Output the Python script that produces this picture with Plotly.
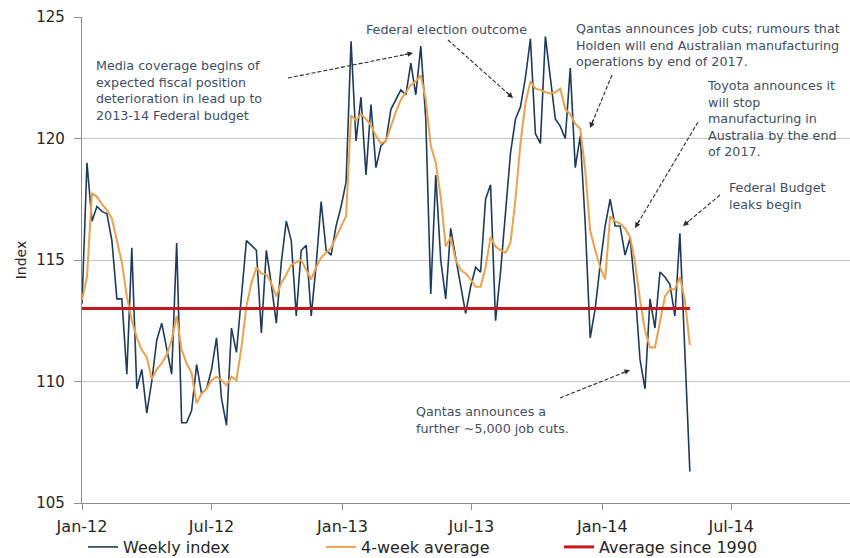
import math
import pandas as pd
import plotly.graph_objects as go

# ---------------- data ----------------
start_date = "2012-01-01"
weekly_index = [113.2, 119.0, 116.6, 117.2, 117.0, 116.9, 115.8, 113.4, 113.4, 110.3,
                115.5, 109.7, 110.5, 108.7, 110.0, 111.7, 112.4, 111.4, 110.3, 115.7,
                108.3, 108.3, 108.8, 110.7, 109.5, 109.7, 110.5, 111.8, 109.3, 108.2,
                112.2, 111.2, 113.5, 115.8, 115.6, 115.4, 112.0, 115.4, 114.0, 112.4,
                114.9, 116.6, 115.8, 112.7, 115.4, 115.6, 112.7, 114.8, 117.4, 115.4,
                115.2, 116.4, 117.2, 118.2, 124.0, 119.9, 121.7, 118.5, 121.4, 118.8,
                119.7, 119.9, 121.2, 121.6, 122.0, 121.8, 123.1, 121.8, 123.8, 120.8,
                113.6, 118.5, 115.0, 113.4, 116.3, 115.1, 114.0, 112.8, 113.9, 114.7,
                114.5, 117.5, 118.1, 112.5, 114.5, 116.8, 119.4, 120.8, 121.3, 122.5,
                124.1, 120.2, 119.8, 124.2, 122.5, 120.8, 120.5, 120.0, 122.9, 118.8,
                120.1, 116.5, 111.8, 113.0, 114.8, 116.4, 117.5, 116.4, 116.4, 115.2,
                115.9, 113.8, 110.9, 109.7, 113.4, 112.2, 114.5, 114.3, 114.0, 112.7,
                116.1, 111.2, 106.3]
four_week_avg = [113.35, 114.3, 117.75, 117.6, 117.3, 117.05, 116.7, 115.8, 114.9, 113.5,
                 112.5, 111.8, 111.3, 111.0, 110.1, 110.5, 110.75, 111.1, 111.7, 112.7,
                 111.3, 110.75, 110.35, 109.1, 109.5, 109.7, 110.05, 110.2, 110.05, 109.85,
                 110.2, 110.05, 111.4, 113.1, 114.05, 114.7, 114.45, 114.4, 114.05, 113.5,
                 114.05, 114.4, 114.8, 114.9, 115.0, 114.6, 114.2, 114.7, 115.1, 115.3,
                 115.5, 115.95, 116.4, 116.8, 120.95, 120.75, 121.0, 120.8, 120.55, 120.1,
                 119.8, 119.9, 120.5, 121.1, 121.6, 121.9, 122.2, 122.35, 122.6, 121.6,
                 119.7, 119.0, 117.6, 115.55, 115.95, 115.0, 114.6, 114.45, 114.2, 113.9,
                 113.9, 114.7, 115.95, 115.55, 115.4, 115.3, 115.7, 117.5, 119.8, 121.45,
                 122.35, 122.05, 122.0, 121.9, 121.85, 121.9, 122.05, 121.2, 121.0, 120.6,
                 120.4, 118.7, 116.2, 115.4, 114.7, 114.2, 116.8, 116.6, 116.5, 116.3,
                 115.95, 114.9, 113.35, 112.1, 111.4, 111.4, 112.5, 113.5, 113.8, 113.8,
                 114.3, 113.35, 111.5]
average_since_1990 = 113.0

tick_dates = ["2012-01-01", "2012-07-01", "2013-01-01", "2013-07-01", "2014-01-01", "2014-07-01"]
tick_labels = ["Jan-12", "Jul-12", "Jan-13", "Jul-13", "Jan-14", "Jul-14"]
x_range = ["2012-01-01", "2014-12-15"]
y_range = [105, 125]

dates = pd.date_range(start_date, periods=len(weekly_index), freq="7D")

# ---------------- layout helpers ----------------
W, H = 850, 558
L, R, T, B = 82, 0, 17, 55
PW, PH = W - L - R, H - T - B


def px(xp):
    return (xp - L) / PW


def py(yp):
    return (T + PH - yp) / PH


FONT = "DejaVu Sans, Verdana, sans-serif"
NOTE = "#3e4e63"
ARROW = "#2b2b2b"

fig = go.Figure()
fig.add_trace(go.Scatter(x=dates, y=weekly_index, mode="lines", name="Weekly index",
                         line=dict(color="#1f3b5c", width=1.6)))
fig.add_trace(go.Scatter(x=dates, y=four_week_avg, mode="lines", name="4-week average",
                         line=dict(color="#eba24f", width=2)))
fig.add_trace(go.Scatter(x=[dates[0], dates[-1]], y=[average_since_1990] * 2, mode="lines",
                         name="Average since 1990", line=dict(color="#c8161d", width=3)))

notes = [
    ("Media coverage begins of<br>expected fiscal position<br>deterioration in lead up to<br>2013-14 Federal budget",
     94, 90),
    ("Federal election outcome", 364, 29),
    ("Qantas announces job cuts; rumours that<br>Holden will end Australian manufacturing<br>operations by end of 2017.",
     574, 45),
    ("Toyota announces it<br>will stop<br>manufacturing in<br>Australia by the end<br>of 2017.", 705, 118),
    ("Federal Budget<br>leaks begin", 727, 196),
    ("Qantas announces a<br>further ~5,000 job cuts.", 414, 420),
]
annotations = []
for text, x0, yc in notes:
    annotations.append(dict(text=text, xref="paper", yref="paper", x=px(x0), y=py(yc),
                            xanchor="left", yanchor="middle", align="left", showarrow=False,
                            font=dict(family=FONT, size=12.7, color=NOTE)))

arrows = [  # (tail x, tail y, head x, head y) in pixels
    (288, 78, 413, 53),
    (448, 40, 513, 98),
    (612, 75, 590, 128),
    (698, 122, 635, 228),
    (720, 195, 683, 226),
    (560, 398, 630, 370),
]
shapes = []
for tx, ty, hx, hy in arrows:
    dx, dy = tx - hx, ty - hy
    d = math.hypot(dx, dy)
    ux, uy = dx / d, dy / d
    # dashed shaft
    shapes.append(dict(type="line", xref="paper", yref="paper",
                       x0=px(tx), y0=py(ty), x1=px(hx + ux * 6), y1=py(hy + uy * 6),
                       line=dict(color=ARROW, width=1.1, dash="4px,2px")))
    # arrow head
    annotations.append(dict(text="", xref="paper", yref="paper", x=px(hx), y=py(hy),
                            ax=ux * 10, ay=uy * 10, showarrow=True, arrowhead=2,
                            arrowsize=1, arrowwidth=1.1, arrowcolor=ARROW))

fig.update_layout(
    width=W, height=H,
    margin=dict(l=L, r=R, t=T, b=B, autoexpand=False),
    paper_bgcolor="white", plot_bgcolor="white",
    font=dict(family=FONT, size=15, color="#262626"),
    showlegend=True,
    legend=dict(orientation="h", x=px(83), y=py(547), xanchor="left", yanchor="middle",
                font=dict(family=FONT, size=16, color="#262626"),
                entrywidth=193, itemwidth=30, bgcolor="rgba(0,0,0,0)"),
    annotations=annotations,
    shapes=shapes,
)
fig.update_xaxes(type="date", range=x_range, tickvals=tick_dates, ticktext=tick_labels,
                 showgrid=False, showline=True, linecolor="#8c8c8c", linewidth=1.2,
                 ticks="outside", ticklen=6, tickcolor="#8c8c8c", zeroline=False,
                 tickfont=dict(size=16), ticklabelstandoff=3, automargin=False)
fig.update_yaxes(range=y_range, dtick=5, showgrid=True, gridcolor="#c4c4c4", gridwidth=1,
                 showline=True, linecolor="#8c8c8c", linewidth=1.2, ticks="outside",
                 ticklen=7, tickcolor="#8c8c8c", zeroline=False,
                 tickfont=dict(size=15), ticklabelstandoff=6, automargin=False,
                 title=dict(text="Index", font=dict(size=14), standoff=6))

fig.write_html("out.html")
